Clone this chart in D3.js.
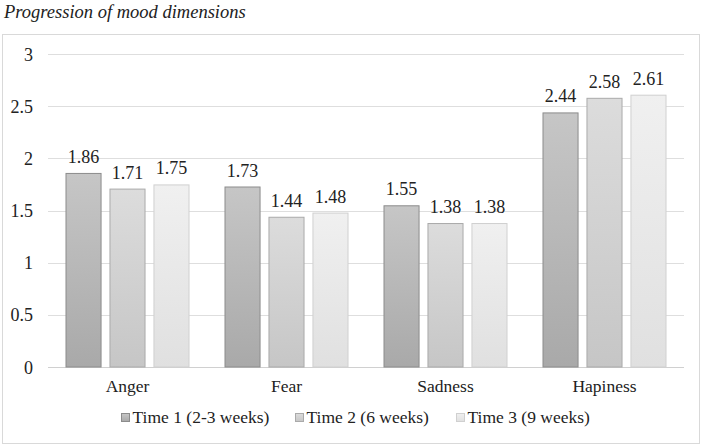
<!DOCTYPE html>
<html><head><meta charset="utf-8">
<script src="https://cdn.jsdelivr.net/npm/d3@7"></script>
<style>body{margin:0;background:#fff}svg{display:block}</style>
</head><body>
<svg id="c" width="704" height="446"></svg>
<script>
const categories = ["Anger","Fear","Sadness","Hapiness"];
const seriesNames = ["Time 1 (2-3 weeks)","Time 2 (6 weeks)","Time 3 (9 weeks)"];
const time1 = [1.86,1.73,1.55,2.44];
const time2 = [1.71,1.44,1.38,2.58];
const time3 = [1.75,1.48,1.38,2.61];
const yTicks = [0,0.5,1,1.5,2,2.5,3];
const title = "Progression of mood dimensions";

(function(){
const FONT = "'Liberation Serif', 'Times New Roman', 'DejaVu Serif', 'Noto Serif', 'Nimbus Roman', 'FreeSerif', Tinos, Times, serif";
const series = [time1,time2,time3];
const fills = [["#c6c6c6","#a9a9a9"],["#dcdcdc","#c6c6c6"],["#f0f0f0","#e0e0e0"]];
const strokes = ["#8c8c8c","#aaaaaa","#d0d0d0"];

const svg = d3.select("#c").attr("font-family", FONT);
const defs = svg.append("defs");
fills.forEach((f,i)=>{
  const g = defs.append("linearGradient").attr("id","g"+i).attr("x1",0).attr("y1",0).attr("x2",0).attr("y2",1);
  g.append("stop").attr("offset","0%").attr("stop-color",f[0]);
  g.append("stop").attr("offset","100%").attr("stop-color",f[1]);
});

svg.append("text").attr("x",4).attr("y",18).attr("font-family",FONT).attr("font-style","italic").attr("font-size",18.5).attr("fill","#222").text(title);
svg.append("rect").attr("x",2.5).attr("y",34.5).attr("width",697).attr("height",409).attr("fill","none").attr("stroke","#d9d9d9");

const pl=48, pr=684, pt=54, pb=367;
const y = d3.scaleLinear().domain([0,3]).range([pb,pt]);
const x0 = d3.scaleBand().domain(categories).range([pl,pr]).padding(0);
const x1 = d3.scaleBand().domain(d3.range(3)).range([17.5, x0.bandwidth()-17.5]).paddingInner(0.18);

const grid = svg.append("g");
yTicks.forEach(t=>{
  grid.append("line").attr("x1",pl).attr("x2",pr).attr("y1",Math.round(y(t))+0.5).attr("y2",Math.round(y(t))+0.5)
    .attr("stroke", t===0 ? "#d0d0d0" : "#dedede");
});
const yAxis = d3.axisLeft(y).tickValues(yTicks).tickSize(0).tickPadding(0).tickFormat(d3.format("~g"));
const ya = svg.append("g").attr("transform",`translate(${pl-15},0)`).call(yAxis).attr("font-family",FONT).attr("font-size",18);
ya.select(".domain").remove();
ya.selectAll("text").attr("fill","#222").attr("dy","0.34em");

const xAxis = d3.axisBottom(x0).tickSize(0).tickPadding(0);
const xa = svg.append("g").attr("transform",`translate(0,${pb+25})`).call(xAxis).attr("font-family",FONT).attr("font-size",17.5);
xa.select(".domain").remove();
xa.selectAll("text").attr("fill","#222").attr("dy",0);

categories.forEach((c,ci)=>{
  series.forEach((s,si)=>{
    const bx = x0(c)+x1(si), bw = x1.bandwidth();
    svg.append("rect").attr("x",bx+0.5).attr("y",y(s[ci])+0.5).attr("width",bw-1).attr("height",pb-y(s[ci])-0.5)
      .attr("fill",`url(#g${si})`).attr("stroke",strokes[si]);
    svg.append("text").attr("x",bx+bw/2).attr("y",y(s[ci])-10).attr("text-anchor","middle")
      .attr("font-family",FONT).attr("font-size",18).attr("fill","#222").text(s[ci].toFixed(2));
  });
});

const legX = [121,295,456];
const lg = svg.append("g");
seriesNames.forEach((n,i)=>{
  lg.append("rect").attr("x",legX[i]+0.5).attr("y",413.5).attr("width",8).attr("height",8).attr("fill",`url(#g${i})`).attr("stroke",strokes[i]);
  lg.append("text").attr("x",legX[i]+11.5).attr("y",423).attr("font-family",FONT).attr("font-size",17.5).attr("fill","#222").text(n);
});
})();
</script>
</body></html>
